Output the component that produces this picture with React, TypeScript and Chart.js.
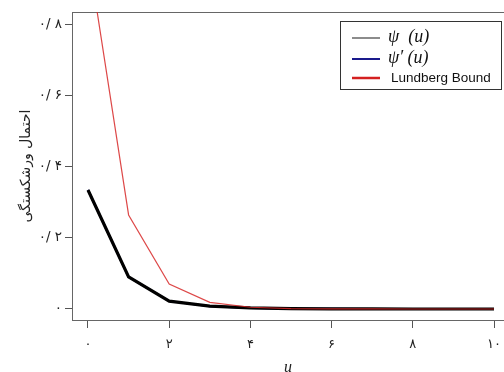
import React, { useEffect, useRef } from "react";
import { Chart, registerables } from "chart.js";

Chart.register(...registerables);

const uValues = [0, 1, 2, 3, 4, 5, 6, 7, 8, 9, 10];
const psiValues = [0.334, 0.09, 0.022, 0.008, 0.003, 0.001, 0.0004, 0.0001, 0, 0, 0];
const psiPrimeValues = [0.334, 0.09, 0.022, 0.008, 0.003, 0.001, 0.0004, 0.0001, 0, 0, 0];
const lundbergValues = [1.0, 0.264, 0.07, 0.0185, 0.0049, 0.0013, 0.0003, 0.0001, 0, 0, 0];

const seriesNames = ["ψ  (u)", "ψ′ (u)", "Lundberg Bound"];
const xTickValues = [0, 2, 4, 6, 8, 10];
const xTickLabels = ["۰", "۲", "۴", "۶", "۸", "۱۰"];
const yTickValues = [0, 0.2, 0.4, 0.6, 0.8];
const yTickLabels = ["۰", "۰/ ۲", "۰/ ۴", "۰/ ۶", "۰/ ۸"];
const yTitle = "احتمال ورشکستگی";
const xTitle = "u";

const legendPlugin = {
  id: "rLegend",
  beforeDatasetsDraw(chart: any) {
    const { ctx, chartArea } = chart;
    ctx.save();
    ctx.strokeStyle = "#666";
    ctx.lineWidth = 1;
    ctx.beginPath();
    ctx.moveTo(chartArea.left, chartArea.top + 0.5);
    ctx.lineTo(chartArea.right, chartArea.top + 0.5);
    ctx.stroke();
    ctx.restore();
  },
  afterDraw(chart: any) {
    const { ctx, chartArea } = chart;
    const ds = chart.data.datasets;
    const x0 = chartArea.right - 164;
    const y0 = chartArea.top + 9;
    ctx.save();
    ctx.fillStyle = "#fff";
    ctx.fillRect(x0, y0, 161, 68);
    ctx.strokeStyle = "#333";
    ctx.lineWidth = 1;
    ctx.strokeRect(x0 + 0.5, y0 + 0.5, 161, 68);
    const order = [0, 1, 2];
    const rows = [17, 38, 57];
    const widths = [1.5, 2, 2.5];
    order.forEach((i, k) => {
      const d = ds[i];
      const y = y0 + rows[k];
      ctx.strokeStyle = d.legendColor;
      ctx.lineWidth = widths[k];
      ctx.beginPath();
      ctx.moveTo(x0 + 12, y);
      ctx.lineTo(x0 + 40, y);
      ctx.stroke();
      ctx.fillStyle = "#111";
      ctx.textBaseline = "middle";
      if (k < 2) {
        ctx.font = "italic 18px 'Liberation Serif', serif";
        ctx.fillText(d.label, x0 + 48, y - 1);
      } else {
        ctx.font = "13.5px 'Liberation Sans', sans-serif";
        ctx.fillText(d.label, x0 + 51, y);
      }
    });
    ctx.restore();
  },
};

export default function App() {
  const ref = useRef<HTMLCanvasElement | null>(null);
  useEffect(() => {
    if (!ref.current) return;
    const chart = new Chart(ref.current, {
      type: "line",
      data: {
        datasets: [
          {
            label: seriesNames[0],
            data: uValues.map((u, i) => ({ x: u, y: psiValues[i] })),
            borderColor: "#000",
            borderWidth: 3.2,
            pointRadius: 0,
            tension: 0,
            order: 2,
            legendColor: "#666",
          } as any,
          {
            label: seriesNames[1],
            data: uValues.map((u, i) => ({ x: u, y: psiPrimeValues[i] })),
            borderColor: "#00008b",
            borderWidth: 2,
            pointRadius: 0,
            tension: 0,
            order: 3,
            legendColor: "#1a1a8c",
          } as any,
          {
            label: seriesNames[2],
            data: uValues.map((u, i) => ({ x: u, y: lundbergValues[i] })),
            borderColor: "rgba(215,40,40,0.85)",
            borderWidth: 1.2,
            pointRadius: 0,
            tension: 0,
            order: 1,
            legendColor: "#d42020",
          } as any,
        ],
      },
      options: {
        animation: false,
        responsive: false,
        devicePixelRatio: 1,
        layout: { padding: { top: 12, right: 0, left: 0, bottom: 0 } },
        plugins: { legend: { display: false }, tooltip: { enabled: false } },
        scales: {
          x: {
            type: "linear",
            min: -0.394,
            max: 10.246,
            afterFit: (s: any) => {
              s.height = 52;
              s.paddingLeft = 0;
              s.paddingRight = 0;
            },
            afterBuildTicks: (s: any) => {
              s.ticks = xTickValues.map((v) => ({ value: v }));
            },
            border: { display: true, color: "#666", width: 1 },
            grid: { display: true, drawOnChartArea: false, drawTicks: true, tickLength: 8, color: "#555" },
            ticks: {
              autoSkip: false,
              maxRotation: 0,
              padding: 9,
              color: "#222",
              font: { family: "'DejaVu Sans', sans-serif", size: 13 },
              callback: (_v: any, i: number) => xTickLabels[i],
            },
            title: {
              display: true,
              text: xTitle,
              color: "#222",
              font: { family: "'Liberation Serif', serif", size: 16, style: "italic" },
              padding: { top: -5, bottom: -5 },
            },
          },
          y: {
            type: "linear",
            min: -0.0309,
            max: 0.8337,
            afterFit: (s: any) => {
              s.width = 72;
              s.paddingTop = 0;
              s.paddingBottom = 0;
            },
            afterBuildTicks: (s: any) => {
              s.ticks = yTickValues.map((v) => ({ value: v }));
            },
            border: { display: true, color: "#666", width: 1 },
            grid: { display: true, drawOnChartArea: false, drawTicks: true, tickLength: 7, color: "#555" },
            ticks: {
              autoSkip: false,
              padding: 3,
              color: "#222",
              font: { family: "'DejaVu Sans', sans-serif", size: 13.5 },
              callback: (_v: any, i: number) => yTickLabels[i],
            },
            title: {
              display: true,
              text: yTitle,
              color: "#222",
              font: { family: "'DejaVu Sans', sans-serif", size: 14 },
              padding: { top: 18, bottom: 0 },
            },
          },
        },
      },
      plugins: [legendPlugin],
    });
    return () => chart.destroy();
  }, []);
  return (
    <div style={{ position: "fixed", left: 0, top: 0, width: 504, height: 372, background: "#fff" }}>
      <canvas ref={ref} width={504} height={372} style={{ display: "block" }} />
    </div>
  );
}
